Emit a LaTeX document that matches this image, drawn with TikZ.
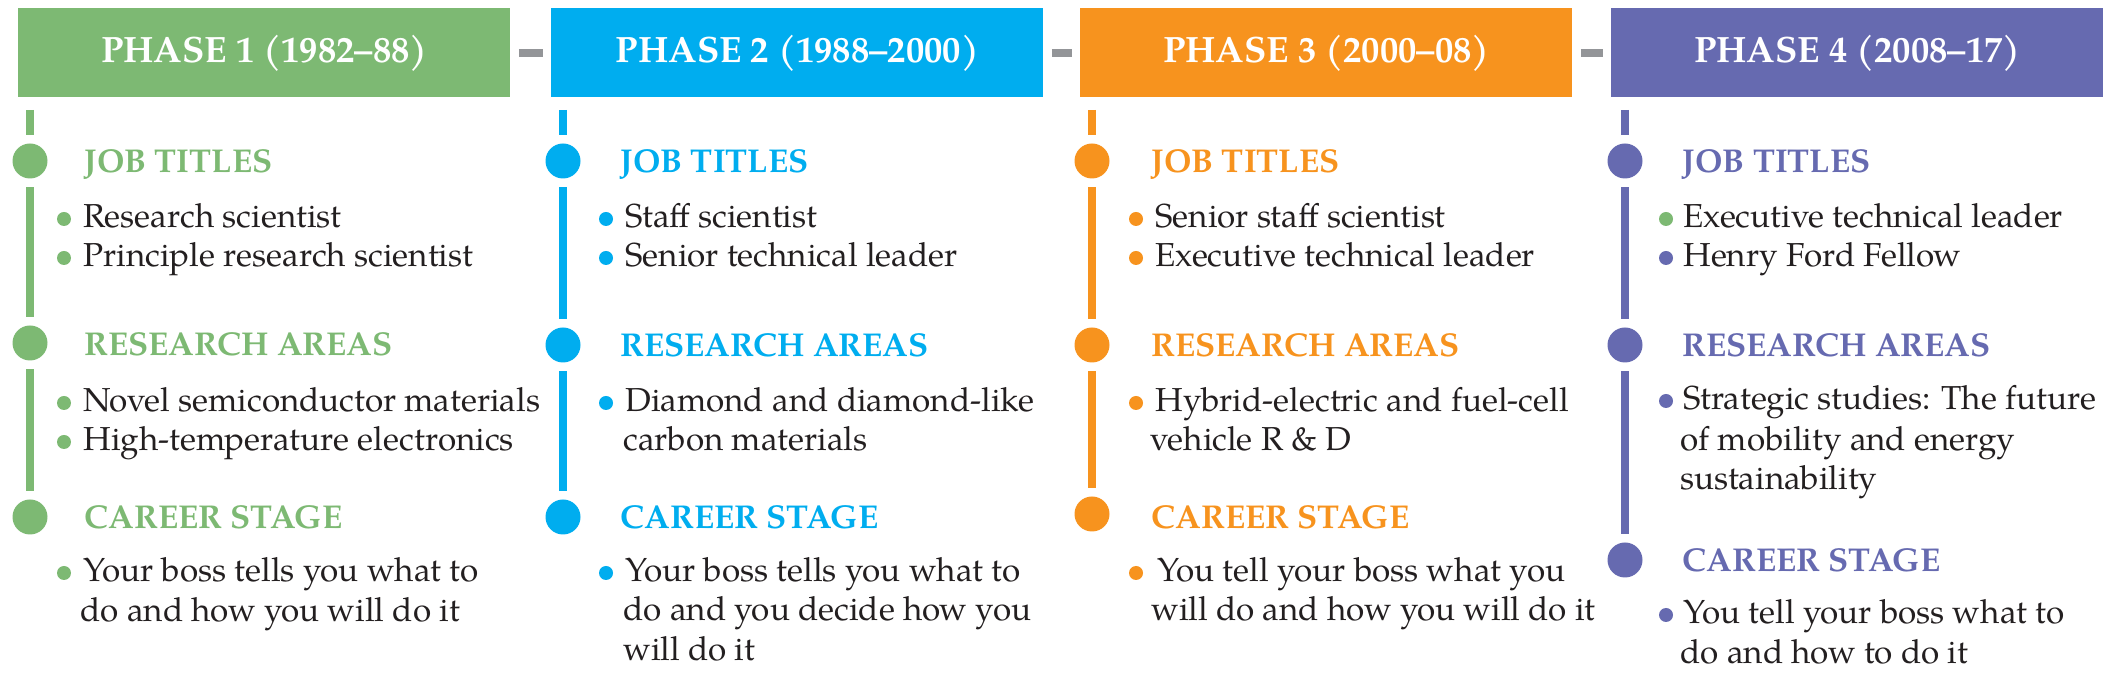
\documentclass[tikz,border=0pt]{standalone}
\usepackage{fontspec}
\setmainfont{TeX Gyre Pagella}
\definecolor{pgreen}{RGB}{125,185,115}
\definecolor{pblue}{RGB}{0,173,239}
\definecolor{porange}{RGB}{247,147,30}
\definecolor{ppurple}{RGB}{102,106,176}
\definecolor{cgray}{RGB}{147,149,152}
\definecolor{ink}{RGB}{35,31,32}
\tikzset{
  phasebox/.style={fill=#1, draw=none, inner sep=0pt, minimum width=246pt, minimum height=44.5pt,
    anchor=north west, text=white, font=\bfseries\fontsize{18.3}{20}\selectfont},
  conn/.style={draw=cgray, line width=4pt},
  seg/.style={draw=#1, line width=4pt},
  bigdot/.style={circle, fill=#1, draw=none, inner sep=0pt, minimum size=17.5pt},
  smalldot/.style={circle, fill=#1, draw=none, inner sep=0pt, minimum size=7pt},
  ttl/.style={text=#1, anchor=base west, inner sep=0pt, font=\bfseries\fontsize{16.5}{20}\selectfont},
  txt/.style={text=ink, anchor=base west, inner sep=0pt, font=\fontsize{16.6}{20}\selectfont}
}
\begin{document}
\begin{tikzpicture}[x=0.5pt,y=-0.5pt]
\useasboundingbox (0,0) rectangle (2127,688);
% header boxes
\node[phasebox=pgreen]  (p1) at (18,8)   {PHASE 1 (1982--88)};
\node[phasebox=pblue]   (p2) at (551,8)  {PHASE 2 (1988--2000)};
\node[phasebox=porange] (p3) at (1080,8) {PHASE 3 (2000--08)};
\node[phasebox=ppurple] (p4) at (1611,8) {PHASE 4 (2008--17)};
\draw[conn] ([xshift=4pt]p1.east) -- ([xshift=-4pt]p2.west);
\draw[conn] ([xshift=4pt]p2.east) -- ([xshift=-4pt]p3.west);
\draw[conn] ([xshift=4pt]p3.east) -- ([xshift=-4pt]p4.west);

% ---------- Phase 1 ----------
\node[bigdot=pgreen] (p1a) at (30,161) {};
\node[bigdot=pgreen] (p1b) at (30,343) {};
\node[bigdot=pgreen] (p1c) at (30,517) {};
\coordinate (p1top) at (p1a |- p1.south);
\draw[seg=pgreen] ([yshift=-6pt]p1top) -- ([yshift=4.25pt]p1a.north);
\draw[seg=pgreen] ([yshift=-4.25pt]p1a.south) -- ([yshift=4.25pt]p1b.north);
\draw[seg=pgreen] ([yshift=-4.25pt]p1b.south) -- ([yshift=4.25pt]p1c.north);
\node[ttl=pgreen] (p1at) at (84,173) {JOB TITLES};
\node[smalldot=pgreen] (p1a1d) at (64,219) {};
\node[txt] (p1a1) at (83,228) {Research scientist};
\node[smalldot=pgreen] (p1a2d) at (64,258) {};
\node[txt] (p1a2) at (83,267) {Principle research scientist};
\node[ttl=pgreen] (p1bt) at (84,356) {RESEARCH AREAS};
\node[smalldot=pgreen] (p1b1d) at (64,403) {};
\node[txt] (p1b1) at (83,412) {Novel semiconductor materials};
\node[smalldot=pgreen] (p1b2d) at (64,442) {};
\node[txt] (p1b2) at (83,451) {High-temperature electronics};
\node[ttl=pgreen] (p1ct) at (84,529) {CAREER STAGE};
\node[smalldot=pgreen] (p1c1d) at (64,573) {};
\node[txt] (p1c1) at (83,582) {Your boss tells you what to};
\node[txt] (p1c2) at (80,622) {do and how you will do it};

% ---------- Phase 2 ----------
\node[bigdot=pblue] (p2a) at (563,161) {};
\node[bigdot=pblue] (p2b) at (563,345) {};
\node[bigdot=pblue] (p2c) at (563,517) {};
\coordinate (p2top) at (p2a |- p2.south);
\draw[seg=pblue] ([yshift=-6pt]p2top) -- ([yshift=4.25pt]p2a.north);
\draw[seg=pblue] ([yshift=-4.25pt]p2a.south) -- ([yshift=4.25pt]p2b.north);
\draw[seg=pblue] ([yshift=-4.25pt]p2b.south) -- ([yshift=4.25pt]p2c.north);
\node[ttl=pblue] (p2at) at (620,173) {JOB TITLES};
\node[smalldot=pblue] (p2a1d) at (606,219) {};
\node[txt] (p2a1) at (625,228) {Staff scientist};
\node[smalldot=pblue] (p2a2d) at (606,258) {};
\node[txt] (p2a2) at (625,267) {Senior technical leader};
\node[ttl=pblue] (p2bt) at (620,357) {RESEARCH AREAS};
\node[smalldot=pblue] (p2b1d) at (606,403) {};
\node[txt] (p2b1) at (625,412) {Diamond and diamond-like};
\node[txt] (p2b2) at (623,451) {carbon materials};
\node[ttl=pblue] (p2ct) at (620,529) {CAREER STAGE};
\node[smalldot=pblue] (p2c1d) at (606,573) {};
\node[txt] (p2c1) at (625,582) {Your boss tells you what to};
\node[txt] (p2c2) at (623,621) {do and you decide how you};
\node[txt] (p2c3) at (623,661) {will do it};

% ---------- Phase 3 ----------
\node[bigdot=porange] (p3a) at (1092,161) {};
\node[bigdot=porange] (p3b) at (1092,345) {};
\node[bigdot=porange] (p3c) at (1092,514) {};
\coordinate (p3top) at (p3a |- p3.south);
\draw[seg=porange] ([yshift=-6pt]p3top) -- ([yshift=4.25pt]p3a.north);
\draw[seg=porange] ([yshift=-4.25pt]p3a.south) -- ([yshift=4.25pt]p3b.north);
\draw[seg=porange] ([yshift=-4.25pt]p3b.south) -- ([yshift=4.25pt]p3c.north);
\node[ttl=porange] (p3at) at (1151,173) {JOB TITLES};
\node[smalldot=porange] (p3a1d) at (1136,219) {};
\node[txt] (p3a1) at (1155,228) {Senior staff scientist};
\node[smalldot=porange] (p3a2d) at (1136,258) {};
\node[txt] (p3a2) at (1155,267) {Executive technical leader};
\node[ttl=porange] (p3bt) at (1151,357) {RESEARCH AREAS};
\node[smalldot=porange] (p3b1d) at (1136,403) {};
\node[txt] (p3b1) at (1155,412) {Hybrid-electric and fuel-cell};
\node[txt] (p3b2) at (1150,451) {vehicle R \& D};
\node[ttl=porange] (p3ct) at (1151,529) {CAREER STAGE};
\node[smalldot=porange] (p3c1d) at (1136,573) {};
\node[txt] (p3c1) at (1157,582) {You tell your boss what you};
\node[txt] (p3c2) at (1151,621) {will do and how you will do it};

% ---------- Phase 4 ----------
\node[bigdot=ppurple] (p4a) at (1625,161) {};
\node[bigdot=ppurple] (p4b) at (1625,345) {};
\node[bigdot=ppurple] (p4c) at (1625,560) {};
\coordinate (p4top) at (p4a |- p4.south);
\draw[seg=ppurple] ([yshift=-6pt]p4top) -- ([yshift=4.25pt]p4a.north);
\draw[seg=ppurple] ([yshift=-4.25pt]p4a.south) -- ([yshift=4.25pt]p4b.north);
\draw[seg=ppurple] ([yshift=-4.25pt]p4b.south) -- ([yshift=4.25pt]p4c.north);
\node[ttl=ppurple] (p4at) at (1682,173) {JOB TITLES};
\node[smalldot=pgreen] (p4a1d) at (1666,219) {};
\node[txt] (p4a1) at (1683,228) {Executive technical leader};
\node[smalldot=ppurple] (p4a2d) at (1666,258) {};
\node[txt] (p4a2) at (1683,267) {Henry Ford Fellow};
\node[ttl=ppurple] (p4bt) at (1682,357) {RESEARCH AREAS};
\node[smalldot=ppurple] (p4b1d) at (1666,401) {};
\node[txt] (p4b1) at (1683,410) {Strategic studies: The future};
\node[txt] (p4b2) at (1680,451) {of mobility and energy};
\node[txt] (p4b3) at (1680,490) {sustainability};
\node[ttl=ppurple] (p4ct) at (1682,572) {CAREER STAGE};
\node[smalldot=ppurple] (p4c1d) at (1666,615) {};
\node[txt] (p4c1) at (1683,624) {You tell your boss what to};
\node[txt] (p4c2) at (1680,664) {do and how to do it};
\end{tikzpicture}
\end{document}
